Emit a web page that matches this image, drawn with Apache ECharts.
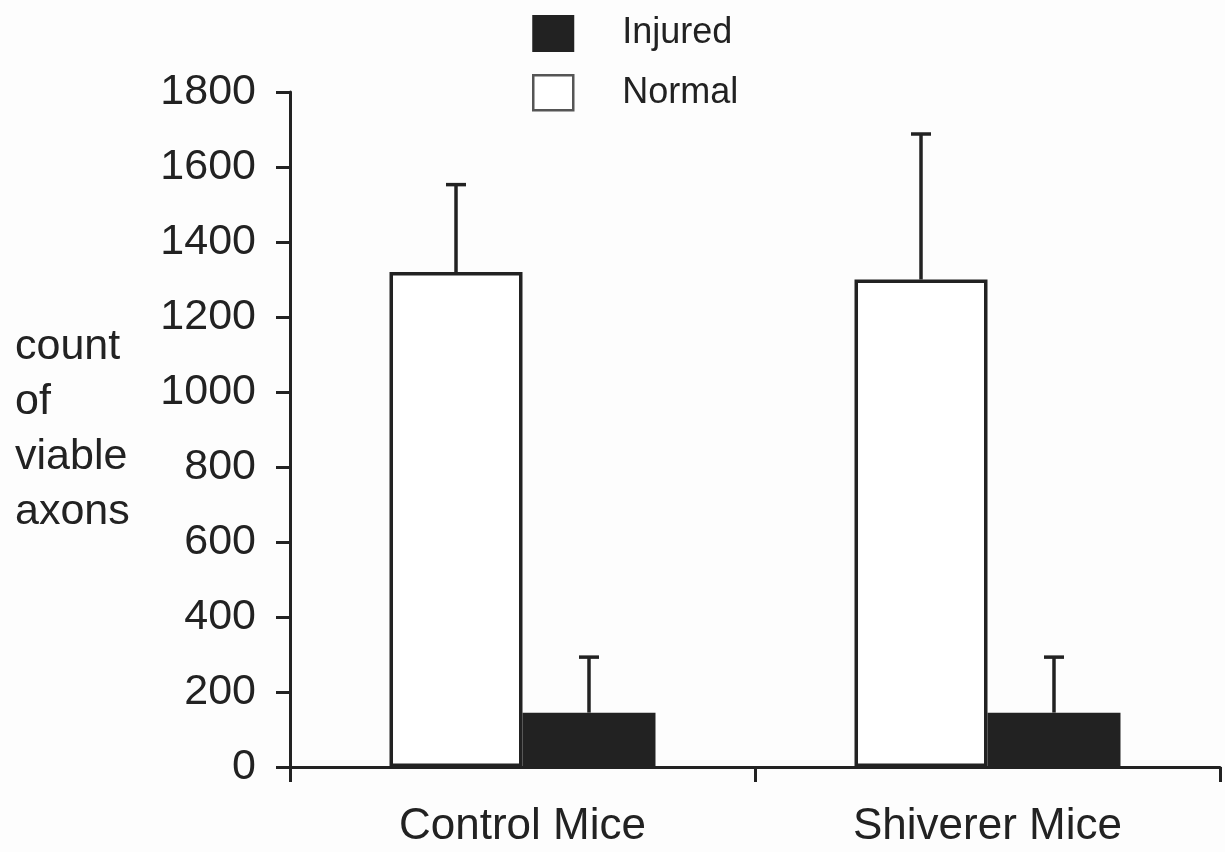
<!DOCTYPE html>
<html>
<head>
<meta charset="utf-8">
<script src="https://cdn.jsdelivr.net/npm/echarts@6/dist/echarts.min.js"></script>
<style>
  html, body { margin: 0; padding: 0; background: #fdfdfd; }
  #chart { width: 1225px; height: 852px; }
</style>
</head>
<body>
<div id="chart"></div>
<script>
// data
var categories = ['Control Mice', 'Shiverer Mice'];
var normalVals = [1320, 1300];
var normalErr = [233, 388];
var injuredVals = [145, 145];
var injuredErr = [148, 148];
var yTicks = [0, 200, 400, 600, 800, 1000, 1200, 1400, 1600, 1800];

var ink = '#222';
var barPct = 0.286; // bar width as share of a category band

function errData(vals, errs) {
  return vals.map(function (v, i) { return [i, v + errs[i], v]; });
}

// draws the upper whisker + cap, shifted to the bar's centre
function errRender(shift) {
  return function (params, api) {
    var p0 = api.coord([api.value(0), api.value(2)]);
    var p1 = api.coord([api.value(0), api.value(1)]);
    var band = api.size([1, 0])[0];
    var cx = p0[0] + shift * band;
    var st = { stroke: ink, lineWidth: 3.5 };
    return {
      type: 'group',
      children: [
        { type: 'line', shape: { x1: cx, y1: p0[1], x2: cx, y2: p1[1] }, style: st },
        { type: 'line', shape: { x1: cx - 10, y1: p1[1], x2: cx + 10, y2: p1[1] }, style: st }
      ]
    };
  };
}

var chart = echarts.init(document.getElementById('chart'));
chart.setOption({
  backgroundColor: '#fdfdfd',
  animation: false,
  textStyle: { fontFamily: 'Liberation Sans, Arial, sans-serif', color: ink },
  legend: {
    orient: 'vertical',
    left: 527,
    top: 10,
    icon: 'rect',
    itemWidth: 40,
    itemHeight: 35,
    itemGap: 22,
    selectedMode: false,
    data: [
      { name: 'Injured', itemStyle: { color: ink, borderColor: ink, borderWidth: 2 } },
      { name: 'Normal', itemStyle: { color: '#fff', borderColor: '#555', borderWidth: 2.5 } }
    ],
    textStyle: { fontSize: 36, color: ink, padding: [0, 0, 0, 44] }
  },
  grid: { left: 290, right: 5, top: 92, bottom: 85 },
  xAxis: {
    type: 'category',
    data: categories,
    axisLine: { lineStyle: { color: ink, width: 3 } },
    axisTick: { show: true, length: 15, lineStyle: { color: ink, width: 3 } },
    axisLabel: { fontSize: 44, color: ink, margin: 38 }
  },
  yAxis: {
    type: 'value',
    min: 0,
    max: yTicks[yTicks.length - 1],
    interval: yTicks[1] - yTicks[0],
    name: 'count\nof\nviable\naxons',
    nameLocation: 'middle',
    nameRotate: 0,
    nameGap: 275,
    nameTextStyle: { fontSize: 43, color: ink, align: 'left', lineHeight: 55, padding: [60, 0, 0, 0] },
    axisLine: { show: true, lineStyle: { color: ink, width: 3 } },
    axisTick: { show: true, length: 14, lineStyle: { color: ink, width: 3 } },
    axisLabel: {
      fontSize: 43, color: ink, margin: 34,
      formatter: function (v) { return String(v); }
    },
    splitLine: { show: false }
  },
  series: [
    {
      name: 'Normal',
      type: 'bar',
      data: normalVals,
      barWidth: (barPct * 100) + '%',
      barGap: '0%',
      itemStyle: { color: '#fff', borderColor: ink, borderWidth: 3.5 }
    },
    {
      name: 'Injured',
      type: 'bar',
      data: injuredVals,
      barWidth: (barPct * 100) + '%',
      barGap: '0%',
      itemStyle: { color: ink, borderColor: ink, borderWidth: 0 }
    },
    {
      type: 'custom',
      renderItem: errRender(-barPct / 2),
      data: errData(normalVals, normalErr),
      z: 5
    },
    {
      type: 'custom',
      renderItem: errRender(barPct / 2),
      data: errData(injuredVals, injuredErr),
      z: 5
    }
  ]
});
</script>
</body>
</html>
